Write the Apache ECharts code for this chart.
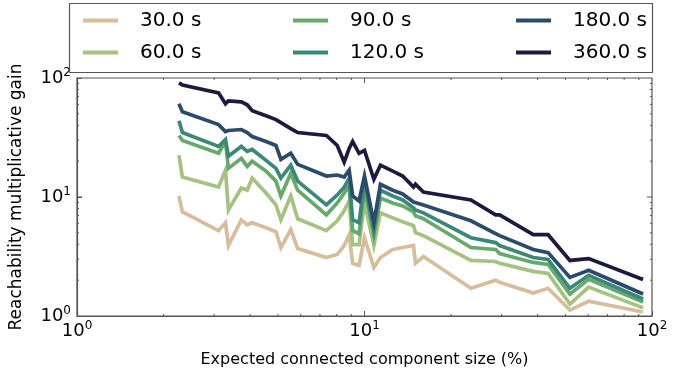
<!DOCTYPE html>
<html>
<head>
<meta charset="utf-8">
<script src="https://cdn.jsdelivr.net/npm/echarts@6/dist/echarts.min.js"></script>
<style>
html,body{margin:0;padding:0;background:#fff;}
#chart{width:689px;height:373px;}
</style>
</head>
<body>
<div id="chart"></div>
<script>
// Expected connected component size (%)
const componentSize = [2.263, 2.326, 3.107, 3.284, 3.363, 3.728, 3.909, 4.067, 4.545, 4.920, 5.119, 5.540, 5.856, 7.369, 8.040, 8.500, 8.844, 9.093, 9.574, 10.0, 10.78, 11.36, 12.54, 13.57, 14.81, 15.04, 16.03, 23.45, 28.58, 29.51, 38.64, 43.51, 51.81, 60.22, 93.11];
const seriesNames = ['30.0 s', '60.0 s', '90.0 s', '120.0 s', '180.0 s', '360.0 s'];
const gain30 = [10.2, 7.50, 5.21, 6.07, 3.91, 6.43, 5.84, 6.07, 5.52, 5.11, 3.76, 5.31, 3.69, 3.10, 3.29, 3.91, 4.82, 2.77, 2.66, 4.55, 2.56, 3.10, 3.62, 3.76, 3.91, 2.77, 3.16, 1.71, 2.00, 1.92, 1.56, 1.71, 1.12, 1.33, 1.08];
const gain60 = [22.4, 14.7, 12.1, 16.8, 7.79, 11.9, 11.4, 14.4, 10.8, 8.58, 6.43, 10.2, 6.56, 5.21, 6.31, 7.64, 9.26, 3.98, 3.98, 8.91, 3.91, 7.36, 6.68, 6.19, 5.73, 5.01, 4.73, 2.93, 2.87, 2.77, 2.37, 2.28, 1.26, 1.75, 1.17];
const gain90 = [32.9, 29.9, 23.3, 29.3, 17.4, 21.1, 18.1, 20.0, 16.5, 13.6, 10.2, 15.8, 11.4, 7.08, 8.91, 10.8, 12.4, 5.21, 4.92, 11.9, 4.73, 9.81, 8.91, 8.41, 7.50, 6.95, 6.56, 3.76, 3.62, 3.35, 2.82, 2.71, 1.53, 2.03, 1.31];
const gain120 = [43.8, 34.8, 26.6, 30.4, 22.0, 26.6, 24.2, 25.1, 20.3, 17.4, 14.4, 18.5, 13.6, 8.58, 10.4, 12.1, 14.4, 6.43, 6.07, 13.6, 5.31, 11.4, 10.2, 9.44, 8.10, 7.79, 7.36, 4.55, 4.14, 3.91, 3.10, 2.99, 1.71, 2.20, 1.39];
const gain180 = [60.7, 52.1, 40.6, 35.5, 36.2, 36.9, 34.8, 32.2, 29.3, 27.1, 20.7, 23.3, 18.8, 15.0, 15.3, 14.7, 16.8, 10.2, 9.26, 15.0, 6.07, 12.8, 11.4, 10.6, 9.08, 9.26, 8.58, 6.31, 4.92, 4.73, 3.62, 3.41, 2.11, 2.42, 1.53];
const gain360 = [90.9, 87.4, 75.0, 60.7, 64.3, 63.1, 59.6, 53.1, 48.2, 44.7, 42.2, 37.6, 34.8, 32.9, 27.1, 19.6, 25.6, 29.3, 23.3, 24.6, 14.1, 18.5, 16.5, 15.0, 12.1, 12.8, 11.0, 9.44, 7.08, 7.08, 4.82, 4.82, 2.93, 3.04, 2.03];
const majorTicks = [1, 10, 100];
const minorTicks = [2, 3, 4, 5, 6, 7, 8, 9, 20, 30, 40, 50, 60, 70, 80, 90];

const colors = ['#d6bd9c', '#a6c282', '#67a86b', '#3b8877', '#2b4b6b', '#1d1b3d'];
const gains = [gain30, gain60, gain90, gain120, gain180, gain360];
const FONT = 'DejaVu Sans';
const AX = '#555';

const chart = echarts.init(document.getElementById('chart'), null, {renderer: 'canvas'});

const lineSeries = seriesNames.map((name, i) => ({
  name: name,
  type: 'line',
  data: componentSize.map((x, j) => [x, gains[i][j]]),
  showSymbol: false,
  symbol: 'none',
  lineStyle: {width: 3.7, color: colors[i], join: 'miter'},
  itemStyle: {color: colors[i]},
  z: 2 + i
}));

function tickLine(x1, y1, x2, y2) {
  return {type: 'line', shape: {x1: x1, y1: y1, x2: x2, y2: y2}, style: {stroke: AX, lineWidth: 1}};
}

const xTickSeries = {
  type: 'custom', silent: true, z: 20, clip: false,
  data: minorTicks.map(v => [v, 1, 2]).concat([[10, 1, 5]]),
  renderItem: function (params, api) {
    const v = api.value(0), len = api.value(2);
    const b = api.coord([v, 1]);
    const t = api.coord([v, 100]);
    return {type: 'group', children: [tickLine(b[0], b[1], b[0], b[1] - len), tickLine(t[0], t[1], t[0], t[1] + len)]};
  }
};
const yTickSeries = {
  type: 'custom', silent: true, z: 20, clip: false,
  data: minorTicks.map(v => [1, v, 2]).concat([[1, 10, 5]]),
  renderItem: function (params, api) {
    const v = api.value(1), len = api.value(2);
    const l = api.coord([1, v]);
    const r = api.coord([100, v]);
    return {type: 'group', children: [tickLine(l[0], l[1], l[0] + len, l[1]), tickLine(r[0], r[1], r[0] - len, r[1])]};
  }
};

function supLabel(v) {
  return '{b|10}{s|' + Math.round(Math.log10(v)) + '}';
}

const legendCommon = {
  orient: 'vertical', top: 9, padding: 0, itemGap: 9,
  itemWidth: 35, itemHeight: 4, icon: 'rect',
  textStyle: {fontSize: 20, fontFamily: FONT, color: '#000', lineHeight: 23, padding: [0, 0, 0, 17]}
};

const option = {
  animation: false,
  backgroundColor: '#fff',
  color: colors,
  grid: {left: 71, right: 37, top: 78, bottom: 54, show: true, borderColor: AX, borderWidth: 1.2, backgroundColor: 'transparent'},
  legend: [
    Object.assign({}, legendCommon, {left: 83, data: ['30.0 s', '60.0 s']}),
    Object.assign({}, legendCommon, {left: 293, data: ['90.0 s', '120.0 s']}),
    Object.assign({}, legendCommon, {left: 516, data: ['180.0 s', '360.0 s']})
  ],
  graphic: [{
    type: 'rect', z: 100,
    shape: {x: 69.5, y: 3.5, width: 583, height: 69},
    style: {fill: 'none', stroke: AX, lineWidth: 1.2}
  }],
  xAxis: {
    type: 'log', logBase: 10, min: 1, max: 100,
    name: 'Expected connected component size (%)',
    nameLocation: 'middle', nameGap: 36,
    nameTextStyle: {fontSize: 16, fontFamily: FONT, color: '#000'},
    axisLine: {show: true, lineStyle: {color: AX, width: 1.2}},
    axisTick: {show: true, inside: true, length: 5, lineStyle: {color: AX}},
    splitLine: {show: false},
    minorTick: {show: false},
    axisLabel: {
      margin: 4, color: '#000', formatter: supLabel,
      rich: {b: {fontSize: 18, fontFamily: FONT, color: '#000'}, s: {fontSize: 12, fontFamily: FONT, color: '#000', padding: [0, 0, 10, 0]}}
    }
  },
  yAxis: {
    type: 'log', logBase: 10, min: 1, max: 100,
    name: 'Reachability multiplicative gain',
    nameLocation: 'middle', nameGap: 52,
    nameTextStyle: {fontSize: 17, fontFamily: FONT, color: '#000'},
    axisLine: {show: true, lineStyle: {color: AX, width: 1.2}},
    axisTick: {show: true, inside: true, length: 5, lineStyle: {color: AX}},
    splitLine: {show: false},
    axisLabel: {
      margin: 6, color: '#000', formatter: supLabel,
      rich: {b: {fontSize: 18, fontFamily: FONT, color: '#000'}, s: {fontSize: 12, fontFamily: FONT, color: '#000', padding: [0, 0, 10, 0]}}
    }
  },
  series: lineSeries.concat([xTickSeries, yTickSeries])
};
chart.setOption(option);
</script>
</body>
</html>
